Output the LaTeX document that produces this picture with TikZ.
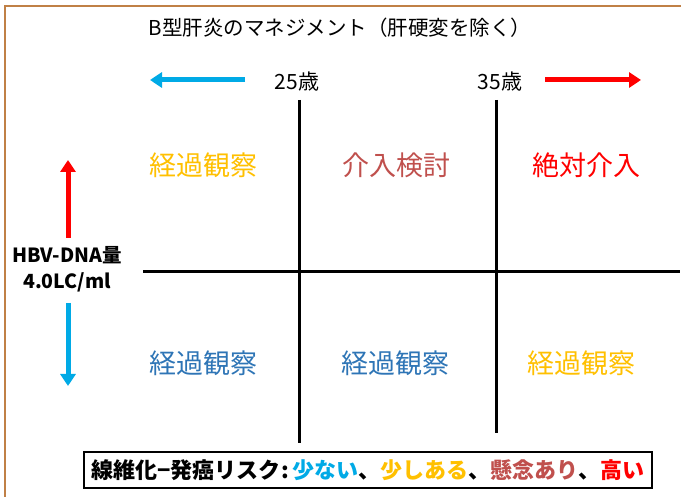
\documentclass[tikz,border=0pt]{standalone}
\usepackage{fontspec}
\newfontfamily\jp{Noto Sans CJK JP}
\usetikzlibrary{arrows.meta}
\definecolor{frameC}{RGB}{192,128,70}
\definecolor{ltblue}{RGB}{0,170,230}
\definecolor{stblue}{RGB}{46,117,182}
\definecolor{gold}{RGB}{255,192,0}
\definecolor{dred}{RGB}{192,80,77}
\definecolor{bred}{RGB}{255,0,0}
\tikzset{
  gridline/.style={line width=3pt, black},
  bigarrow/.style={line width=5pt, -{Triangle[length=12pt,width=15pt]}},
  cell/.style={font=\jp\fontsize{27}{30}\selectfont, inner sep=0pt},
  agelbl/.style={font=\jp\fontsize{21}{24}\selectfont, inner sep=0pt},
}
\begin{document}
\begin{tikzpicture}[x=1pt,y=-1pt]
\useasboundingbox (0,0) rectangle (681,497);
\fill[white] (0,0) rectangle (681,497);
% frame
\draw[frameC, line width=1.5pt] (5,497) -- (5,6) -- (681,6);
% title
\node[font=\jp\fontsize{20.5}{24}\selectfont, inner sep=0pt] (title) at (340,28) {B型肝炎のマネジメント（肝硬変を除く）};
% age labels
\node[agelbl] (a25) at (297,82) {25歳};
\node[agelbl] (a35) at (500,82) {35歳};
\coordinate (lbs) at (245,80); \coordinate (lbe) at (150,80);
\coordinate (rrs) at (545,80); \coordinate (rre) at (641,80);
\draw[bigarrow, ltblue] (lbs) -- (lbe);
\draw[bigarrow, bred] (rrs) -- (rre);
% grid
\coordinate (v1t) at (299,100); \coordinate (v1b) at (299,443);
\coordinate (v2t) at (496,100); \coordinate (v2b) at (496,433);
\coordinate (hl) at (143,272); \coordinate (hr) at (680,272);
\draw[gridline] (v1t) -- (v1b);
\draw[gridline] (v2t) -- (v2b);
\draw[gridline] (hl) -- (hr);
% left label and arrows
\node[font=\jp\bfseries\fontsize{19.5}{22}\selectfont, inner sep=0pt, align=center] (hbv) at (67,269) {HBV-DNA量\\[4pt]4.0LC/ml};
\coordinate (ups) at (68,238); \coordinate (upe) at (68,160);
\coordinate (dns) at (68,303); \coordinate (dne) at (68,386);
\draw[bigarrow, bred] (ups) -- (upe);
\draw[bigarrow, ltblue] (dns) -- (dne);
% cells
\node[cell, gold] (c11) at (203,165) {経過観察};
\node[cell, dred] (c12) at (396,165) {介入検討};
\node[cell, bred] (c13) at (586,165) {絶対介入};
\node[cell, stblue] (c21) at (203,363) {経過観察};
\node[cell, stblue] (c22) at (395,363) {経過観察};
\node[cell, gold] (c23) at (581,363) {経過観察};
% bottom legend
\node[draw=black, line width=1.5pt, minimum width=568pt, minimum height=36pt, inner sep=0pt,
      font=\jp\bfseries\fontsize{22}{24}\selectfont] (legend) at (368,470)
  {線維化−発癌リスク\kern1pt:\kern3pt\textcolor{ltblue}{少ない}、\textcolor{gold}{少しある}、\textcolor{dred}{懸念あり}、\textcolor{bred}{高い}};
\end{tikzpicture}
\end{document}
